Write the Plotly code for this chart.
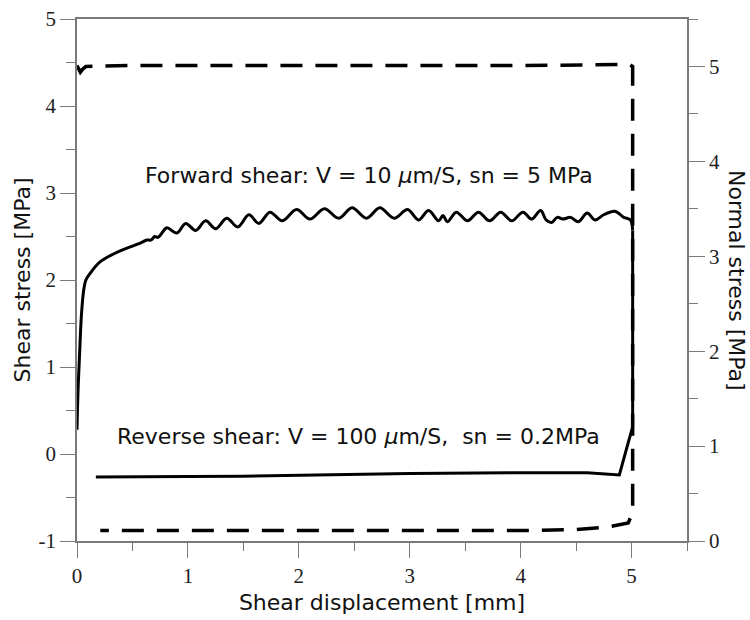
import plotly.graph_objects as go

# Forward shear (shear stress, left axis)
fwd_x = [0.0, 0.01, 0.025, 0.04, 0.06, 0.08, 0.12, 0.2, 0.3, 0.4, 0.5, 0.58, 0.63, 0.67,
         0.70, 0.73, 0.76, 0.81, 0.90, 0.98, 1.07, 1.16, 1.25, 1.35, 1.45, 1.55, 1.64,
         1.74, 1.85, 1.98, 2.10, 2.23, 2.36, 2.48, 2.61, 2.73, 2.86, 2.98, 3.08, 3.17,
         3.26, 3.30, 3.34, 3.42, 3.52, 3.62, 3.72, 3.82, 3.92, 4.02, 4.10, 4.18, 4.23,
         4.28, 4.33, 4.38, 4.45, 4.52, 4.60, 4.67, 4.75, 4.85, 4.93, 4.99, 5.01]
fwd_y = [0.28, 0.75, 1.2, 1.6, 1.88, 2.0, 2.08, 2.2, 2.28, 2.34, 2.39, 2.43, 2.46, 2.46,
         2.50, 2.49, 2.53, 2.60, 2.54, 2.65, 2.57, 2.68, 2.59, 2.71, 2.61, 2.75, 2.65,
         2.78, 2.68, 2.81, 2.70, 2.82, 2.71, 2.83, 2.71, 2.83, 2.71, 2.81, 2.69, 2.80,
         2.68, 2.74, 2.67, 2.78, 2.68, 2.78, 2.68, 2.78, 2.68, 2.78, 2.70, 2.80, 2.69,
         2.66, 2.72, 2.70, 2.72, 2.67, 2.77, 2.69, 2.75, 2.79, 2.72, 2.69, 2.57]

# Unloading and reverse shear (shear stress, left axis)
rev_x = [5.01, 5.01, 4.97, 4.89, 4.6, 4.0, 3.0, 2.5, 2.0, 1.5, 1.0, 0.5, 0.17]
rev_y = [2.57, 0.31, 0.13, -0.24, -0.215, -0.215, -0.225, -0.235, -0.25, -0.255, -0.26, -0.265, -0.265]

# Normal stress (right axis)
normal_x = [0.0, 0.015, 0.03, 0.05, 0.08, 0.5, 1.0, 2.0, 3.0, 4.0, 4.9, 4.98, 5.01,
            5.01, 4.97, 4.8, 4.5, 4.0, 3.0, 2.0, 1.0, 0.21]
normal_y = [5.01, 4.97, 4.94, 4.97, 5.0, 5.01, 5.01, 5.01, 5.01, 5.01, 5.02, 5.02, 5.0,
            0.30, 0.19, 0.15, 0.12, 0.11, 0.11, 0.11, 0.11, 0.11]

x_ticks = [0, 1, 2, 3, 4, 5]
x_minor = [0.5, 1.5, 2.5, 3.5, 4.5, 5.5]
left_ticks = [-1, 0, 1, 2, 3, 4, 5]
left_labels = ["-1", "0", "1", "2", "3", "4", "5"]
left_minor = [-0.5, 0.5, 1.5, 2.5, 3.5, 4.5]
right_ticks = [0, 1, 2, 3, 4, 5]
right_minor = [0.5, 1.5, 2.5, 3.5, 4.5, 5.5]

axis_color = "#7a7a7a"
tick_font = dict(family="Times New Roman, Liberation Serif, serif", size=21, color="#222")
title_font = dict(family="DejaVu Sans", size=22, color="#111")

fig = go.Figure()
fig.add_trace(go.Scatter(x=fwd_x, y=fwd_y, mode="lines", line=dict(color="black", width=3),
                         line_shape="spline", showlegend=False, yaxis="y"))
fig.add_trace(go.Scatter(x=rev_x, y=rev_y, mode="lines", line=dict(color="black", width=3),
                         showlegend=False, yaxis="y"))
fig.add_trace(go.Scatter(x=normal_x, y=normal_y, mode="lines",
                         line=dict(color="black", width=3.5, dash="22px,13px"),
                         showlegend=False, yaxis="y2"))

fig.update_layout(
    width=750, height=620,
    margin=dict(l=77, r=63, t=19, b=79),
    paper_bgcolor="white", plot_bgcolor="white",
    xaxis=dict(range=[0, 5.5], tickmode="array", tickvals=x_ticks, ticks="outside",
               ticklen=15, tickcolor=axis_color, showline=True, linecolor=axis_color,
               linewidth=1.5, mirror=True, showgrid=False, zeroline=False,
               tickfont=tick_font, automargin=False,
               minor=dict(tickvals=x_minor, ticks="outside", ticklen=8, tickcolor=axis_color),
               title=dict(text="Shear displacement [mm]", font=title_font, standoff=8)),
    yaxis=dict(range=[-1, 5], tickmode="array", tickvals=left_ticks, ticktext=left_labels,
               ticks="outside", ticklen=15, tickcolor=axis_color, showline=True,
               linecolor=axis_color, linewidth=1.5, showgrid=False, zeroline=False,
               tickfont=tick_font, automargin=False,
               minor=dict(tickvals=left_minor, ticks="outside", ticklen=9, tickcolor=axis_color),
               title=dict(text="Shear stress [MPa]", font=title_font, standoff=2)),
    yaxis2=dict(range=[0, 5.5], overlaying="y", side="right", tickmode="array",
                tickvals=right_ticks, ticks="outside", ticklen=16, tickcolor=axis_color,
                showline=True, linecolor=axis_color, linewidth=1.5, showgrid=False,
                zeroline=False, tickfont=tick_font, automargin=False,
                minor=dict(tickvals=right_minor, ticks="outside", ticklen=9, tickcolor=axis_color)),
    annotations=[
        dict(text="Forward shear: V = 10 <i>μ</i>m/S, sn = 5 MPa", x=2.63, y=3.2,
             xref="x", yref="y", showarrow=False, font=title_font),
        dict(text="Reverse shear: V = 100 <i>μ</i>m/S,  sn = 0.2MPa", x=2.54, y=0.2,
             xref="x", yref="y", showarrow=False, font=title_font),
        dict(text="Normal stress [MPa]", x=1.082, y=0.5, xref="paper", yref="paper",
             xanchor="center", yanchor="middle",
             textangle=90, showarrow=False, font=title_font),
    ],
)

fig.write_html("out.html")
